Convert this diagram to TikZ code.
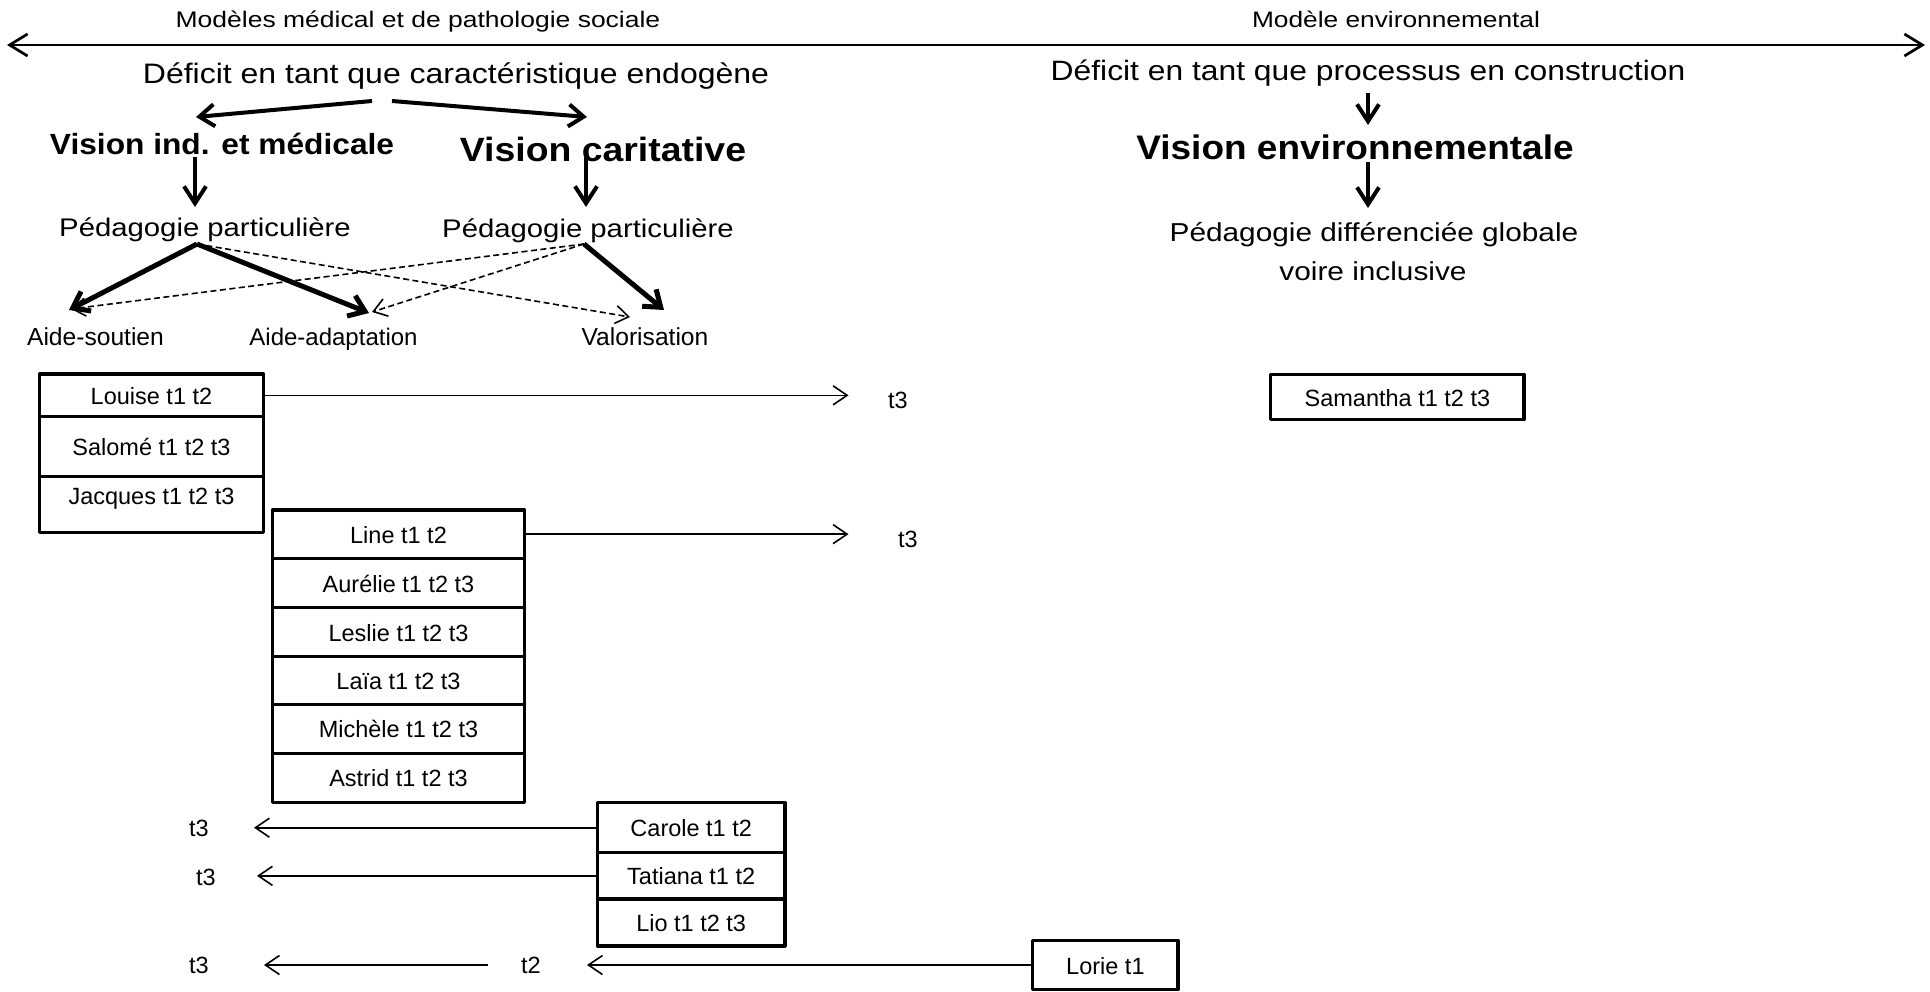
\documentclass[tikz,border=0pt]{standalone}
\usepackage{fontspec}
\setmainfont{Liberation Sans}
\usepackage{graphicx}
\usetikzlibrary{arrows.meta}
\newcommand\fsz[1]{\fontsize{#1pt}{#1pt}\selectfont}
\newcommand\vsc[2]{\scalebox{1}[#1]{#2}}
\tikzset{
  htxt/.style={inner sep=0pt, anchor=base},
  lbl/.style={inner sep=0pt, font=\fsz{23.5}, text height=17pt, text depth=5pt},
  rowbox/.style={draw, line width=3.2pt, line join=round, inner sep=0pt,
    font=\fsz{23.5}, text height=20pt, text depth=2pt},
  axisline/.style={line width=2.7pt, {Straight Barb[length=18pt,width=22pt,line width=2.7pt]}-{Straight Barb[length=18pt,width=22pt,line width=2.7pt]}},
  brancharrow/.style={line width=4pt, -{Straight Barb[length=15pt,width=22pt,line width=4pt]}},
  downarrow/.style={line width=4pt, -{Straight Barb[length=17pt,width=22pt,line width=4pt]}},
  thickarrow/.style={line width=5pt, -{Straight Barb[length=15pt,width=22pt,line width=5pt]}},
  dasharrow/.style={line width=1.6pt, dash pattern=on 6pt off 3.5pt, -{Straight Barb[length=13pt,width=18pt,line width=1.6pt]}},
  thinarrow/.style={line width=1.6pt, -{Straight Barb[length=14pt,width=19pt,line width=1.6pt]}}
}
\begin{document}
\begin{tikzpicture}[x=1pt,y=-1pt]
\useasboundingbox[fill=white] (0,0) rectangle (1930,992);

% top axis
\coordinate (axL) at (7,45);
\coordinate (axR) at (1925,45);
\draw[axisline] (axL) -- (axR);
\node[htxt] (modL) at (418,27.5) {\fsz{26.5}\vsc{0.85}{Modèles médical et de pathologie sociale}};
\node[htxt] (modR) at (1396,27.5) {\fsz{26.3}\vsc{0.85}{Modèle environnemental}};

% left heading
\node[htxt] (defL) at (456,84) {\fsz{32}\vsc{0.88}{Déficit en tant que caractéristique endogène}};
\node[htxt] (visInd) at (222,154.5) {\fsz{31.7}\bfseries\vsc{0.92}{Vision ind. et médicale}};
\node[htxt] (visCar) at (603,162) {\fsz{37.4}\bfseries\vsc{0.9}{Vision caritative}};
\coordinate (bsL) at (372,101);
\coordinate (bsR) at (392,101);
\coordinate (btL) at (196,117);
\coordinate (btR) at (587,117);
\draw[brancharrow] (bsL) -- (btL);
\draw[brancharrow] (bsR) -- (btR);

\node[htxt] (pedL) at (205,236.5) {\fsz{29.3}\vsc{0.87}{Pédagogie particulière}};
\node[htxt] (pedR) at (588,238) {\fsz{29.3}\vsc{0.87}{Pédagogie particulière}};
\coordinate (dsL) at (195,157);
\coordinate (dtL) at (195,207);
\coordinate (dsR) at (586,157);
\coordinate (dtR) at (586,207);
\draw[downarrow] (dsL) -- (dtL);
\draw[downarrow] (dsR) -- (dtR);

\node[htxt] (aideS) at (95.5,345) {\fsz{24.6}Aide-soutien};
\node[htxt] (aideA) at (333.5,345) {\fsz{24}Aide-adaptation};
\node[htxt] (valo) at (645,345) {\fsz{24.6}Valorisation};

\coordinate (srcL) at (197,244);
\coordinate (srcR) at (584,244);
\coordinate (tAS) at (69,310);
\coordinate (tAA) at (369,313);
\coordinate (tVa) at (664,310);
\coordinate (tdVa) at (630,317);
\coordinate (tdAS) at (71,309);
\coordinate (tdAA) at (372,312);
\draw[thickarrow] (srcL) -- (tAS);
\draw[thickarrow] (srcL) -- (tAA);
\draw[thickarrow] (srcR) -- (tVa);
\draw[dasharrow] (srcL) -- (tdVa);
\draw[dasharrow] (srcR) -- (tdAS);
\draw[dasharrow] (srcR) -- (tdAA);

% right heading
\node[htxt] (defR) at (1368,81) {\fsz{31.8}\vsc{0.88}{Déficit en tant que processus en construction}};
\node[htxt] (visEnv) at (1355,160) {\fsz{37}\bfseries\vsc{0.92}{Vision environnementale}};
\node[htxt] (pedDiff) at (1374,241.5) {\fsz{29.8}\vsc{0.87}{Pédagogie différenciée globale}};
\node[htxt] (voire) at (1373,281) {\fsz{29.8}\vsc{0.87}{voire inclusive}};
\coordinate (rs1) at (1368,93);
\coordinate (rt1) at (1368,125);
\coordinate (rs2) at (1368,162);
\coordinate (rt2) at (1368,208);
\draw[downarrow] (rs1) -- (rt1);
\draw[downarrow] (rs2) -- (rt2);

% Louise group
\node[rowbox, minimum width=224pt, minimum height=42.7pt] (louise) at (151.5,395.35) {Louise t1 t2};
\node[rowbox, minimum width=224pt, minimum height=60pt] (salome) at (151.5,446.7) {Salomé t1 t2 t3};
\node[rowbox, minimum width=224pt, minimum height=56pt] (jacques) at (151.5,504.7) {\raisebox{9.7pt}{Jacques t1 t2 t3}};

% Line group
\node[rowbox, minimum width=252pt, minimum height=48.3pt] (line) at (398.5,534.15) {Line t1 t2};
\node[rowbox, minimum width=252pt, minimum height=49.4pt] (aurelie) at (398.5,583) {Aurélie t1 t2 t3};
\node[rowbox, minimum width=252pt, minimum height=49pt] (leslie) at (398.5,632.2) {Leslie t1 t2 t3};
\node[rowbox, minimum width=252pt, minimum height=47.6pt] (laia) at (398.5,680.5) {Laïa t1 t2 t3};
\node[rowbox, minimum width=252pt, minimum height=49pt] (michele) at (398.5,728.8) {Michèle t1 t2 t3};
\node[rowbox, minimum width=252pt, minimum height=49pt] (astrid) at (398.5,777.8) {Astrid t1 t2 t3};

% Carole group
\node[rowbox, minimum width=187.6pt, minimum height=50pt] (carole) at (691.2,827.7) {Carole t1 t2};
\node[rowbox, minimum width=187.6pt, minimum height=46.3pt] (tatiana) at (691.2,875.85) {Tatiana t1 t2};
\node[rowbox, minimum width=187.6pt, minimum height=47pt] (lio) at (691.2,922.5) {Lio t1 t2 t3};

% Lorie, Samantha
\node[rowbox, minimum width=145.2pt, minimum height=49pt] (lorie) at (1105.4,965) {Lorie t1};
\node[rowbox, minimum width=253.3pt, minimum height=45.7pt] (samantha) at (1397.4,397) {Samantha t1 t2 t3};

% t labels
\node[lbl] (t3Lou) at (898,402) {t3};
\node[lbl] (t3Line) at (908,541) {t3};
\node[lbl] (t3Car) at (199,830) {t3};
\node[lbl] (t3Tat) at (206,879) {t3};
\node[lbl] (t3Lor) at (199,967) {t3};
\node[lbl] (t2Lor) at (531,967) {t2};

\coordinate (tipLou) at (848.5,395.35);
\coordinate (tipLine) at (848.5,534.15);
\coordinate (tipCar) at (254,827.7);
\coordinate (tipTat) at (257,875.85);
\coordinate (tipLor2) at (587,965);
\coordinate (segLor) at (488,965);
\coordinate (tipLor3) at (264,965);
\draw[thinarrow] (louise.east) -- (tipLou);
\draw[thinarrow] (line.east) -- (tipLine);
\draw[thinarrow] (carole.west) -- (tipCar);
\draw[thinarrow] (tatiana.west) -- (tipTat);
\draw[thinarrow] (lorie.west) -- (tipLor2);
\draw[thinarrow] (segLor) -- (tipLor3);
\end{tikzpicture}
\end{document}
